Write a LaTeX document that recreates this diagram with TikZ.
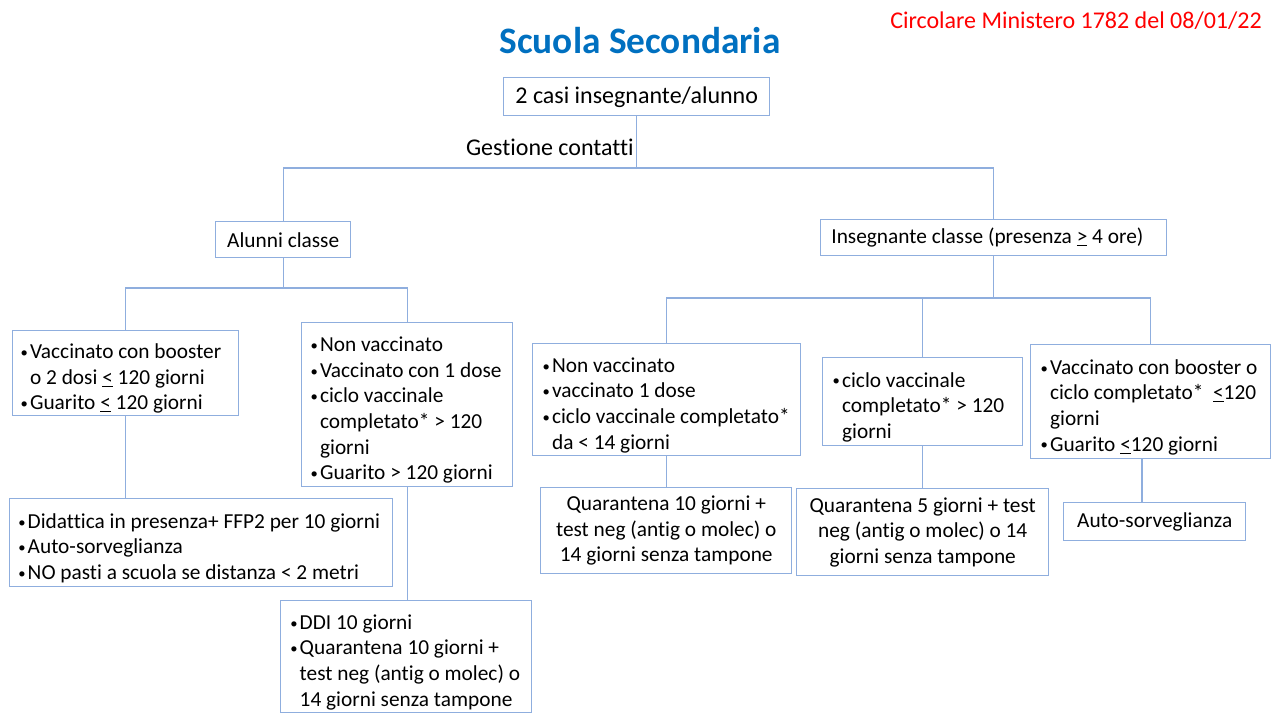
\documentclass[tikz,border=0pt]{standalone}
\usepackage{fontspec}
\setmainfont{Carlito}[Ligatures=NoCommon]
\definecolor{lineblue}{RGB}{143,174,222}
\definecolor{titleblue}{RGB}{0,112,192}
\newdimen\bhang \bhang=7pt
\newcommand\mybul{\makebox[\bhang][l]{\raisebox{0.9pt}{\fontsize{11pt}{11pt}\selectfont•}}}
\newcommand\bi[1]{\par\noindent\mybul\mbox{#1}}
\newcommand\ci[1]{\par\noindent\hspace*{\bhang}\mbox{#1}}
\newcommand\myle{\underline{<}}
\newcommand\myge{\underline{>}}
\begin{document}
\begin{tikzpicture}[x=0.75pt,y=-0.75pt,
  box/.style={draw=lineblue, line width=1.1pt, inner sep=0pt, anchor=north west,
    font=\fontsize{16pt}{19.2pt}\selectfont},
  lbox/.style={box, align=left, execute at begin node={\spaceskip=0pt\xspaceskip=0pt}},
  bigbox/.style={box, font=\fontsize{18pt}{21.6pt}\selectfont},
  conn/.style={draw=lineblue, line width=1.1pt},
  label18/.style={inner sep=0pt, font=\fontsize{18pt}{21.6pt}\selectfont}]
\useasboundingbox (0,0) rectangle (1275,713);

% titles
\node[inner sep=0pt, anchor=base, text=titleblue,
  font=\fontsize{28pt}{33pt}\selectfont\bfseries] (title) at (640,54) {Scuola Secondaria};
\node[label18, anchor=base east, text=red] (circ) at (1262,29) {Circolare Ministero 1782 del 08/01/22};

% top
\node[bigbox, minimum width=199.5pt, minimum height=28.5pt] (T0) at (503,77) {2 casi insegnante/alunno};
\node[label18, anchor=base east] (gest) at (634,156) {Gestione contatti};

% level 2
\node[box, minimum width=101.25pt, minimum height=27pt] (AL) at (215,221) {Alunni classe};
\node[lbox, text width=243.5pt, minimum width=259.5pt, minimum height=27pt] (IN) at (820,219)
  {Insegnante classe (presenza \myge{} 4 ore)};

% left branch
\node[lbox, text width=157.5pt, minimum width=169.5pt, minimum height=63.75pt] (A1) at (12,330)
  {\bi{Vaccinato con booster}\ci{o 2 dosi \myle{} 120 giorni}\bi{Guarito \myle{} 120 giorni}};
\node[lbox, text width=144.75pt, minimum width=158.25pt, minimum height=123pt] (A2) at (301,322)
  {\bi{Non vaccinato}\bi{Vaccinato con 1 dose}\bi{ciclo vaccinale}\ci{completato* > 120}\ci{giorni}\bi{Guarito > 120 giorni}};
\node[lbox, text width=274.25pt, minimum width=287.25pt, minimum height=66pt] (A3) at (9,498)
  {\bi{Didattica in presenza+ FFP2 per 10 giorni}\bi{Auto-sorveglianza}\bi{NO pasti a scuola se distanza < 2 metri}};
\node[lbox, text width=173.75pt, minimum width=188.25pt, minimum height=84pt] (A4) at (280,600)
  {\bi{DDI 10 giorni}\bi{Quarantena 10 giorni +}\ci{test neg (antig o molec) o}\ci{14 giorni senza tampone}};

% right branch
\node[lbox, text width=186pt, minimum width=201pt, minimum height=84pt] (B1) at (532,343)
  {\bi{Non vaccinato}\bi{vaccinato 1 dose}\bi{ciclo vaccinale completato*}\ci{da < 14 giorni}};
\node[lbox, text width=135pt, minimum width=150pt, minimum height=66pt] (B2) at (822,357)
  {\bi{ciclo vaccinale}\ci{completato* > 120}\ci{giorni}};
\node[lbox, text width=165pt, minimum width=180pt, minimum height=85.5pt] (B3) at (1030,344)
  {\bi{Vaccinato con booster o}\ci{ciclo completato*\ \ \myle{}120}\ci{giorni}\bi{Guarito \myle{}120 giorni}};

\node[box, align=center, minimum width=188.25pt, minimum height=64.5pt] (C1) at (540,487)
  {Quarantena 10 giorni +\\test neg (antig o molec) o\\14 giorni senza tampone};
\node[box, align=center, minimum width=189pt, minimum height=65.25pt] (C2) at (796,488)
  {Quarantena 5 giorni + test\\neg (antig o molec) o 14\\giorni senza tampone};
\node[box, minimum width=136.5pt, minimum height=28.5pt] (C3) at (1063,502) {Auto-sorveglianza};

% connectors
\coordinate (h0) at (637,168);
\coordinate (h1) at (282,288);
\coordinate (h2) at (993,298);
\coordinate (c3x) at (1142,0);
\draw[conn] (T0.south) -- (T0.south |- h0);
\draw[conn] (AL.north) |- (IN.north |- h0) -- (IN.north);
\draw[conn] (AL.south) -- (AL.south |- h1);
\draw[conn] (A1.north) |- (A2.north |- h1) -- (A2.north);
\draw[conn] (A1.south) -- (A1.south |- A3.north);
\draw[conn] (A2.south) -- (A2.south |- A4.north);
\draw[conn] (IN.south) -- (IN.south |- h2);
\draw[conn] (B1.north) |- (B3.north |- h2) -- (B3.north);
\draw[conn] (B2.north) -- (B2.north |- h2);
\draw[conn] (B1.south) -- (B1.south |- C1.north);
\draw[conn] (B2.south) -- (B2.south |- C2.north);
\draw[conn] (B3.south -| c3x) -- (C3.north -| c3x);
\end{tikzpicture}
\end{document}
